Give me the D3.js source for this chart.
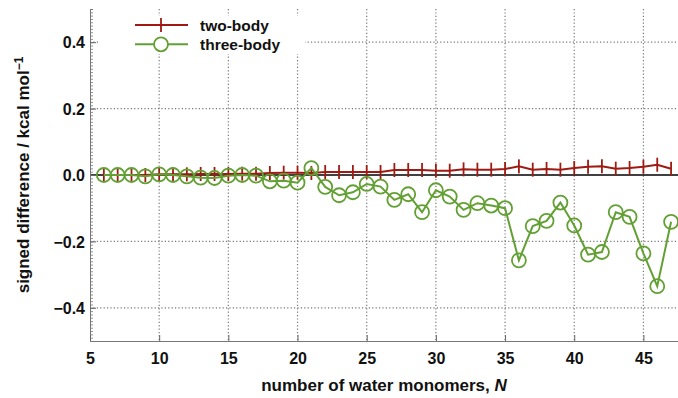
<!DOCTYPE html>
<html lang="en">
<head>
<meta charset="utf-8">
<title>Signed difference vs N</title>
<style>
body {
  margin: 0;
  background: #ffffff;
}
svg text {
  font-family: "Liberation Sans", Arial, sans-serif;
  font-weight: bold;
  fill: #111;
}
.tickText {
  font-size: 16px;
}
.axisTitles {
  font-size: 17px;
  text-anchor: middle;
}
.legendText {
  font-size: 15.5px;
}
</style>
</head>
<body>
<div id="chart"></div>
<script src="https://d3js.org/d3.v7.min.js"></script>
<script>
// number of water monomers
var nValues = [6, 7, 8, 9, 10, 11, 12, 13, 14, 15, 16, 17, 18, 19, 20, 21, 22, 23, 24, 25, 26,
  27, 28, 29, 30, 31, 32, 33, 34, 35, 36, 37, 38, 39, 40, 41, 42, 43, 44, 45, 46, 47];
// signed differences, kcal/mol
var twoBody = [0.000, 0.000, 0.000, 0.000, 0.002, 0.002, 0.002, 0.003, 0.003, 0.003, 0.004, 0.004,
  0.006, 0.007, 0.007, 0.006, 0.009, 0.009, 0.009, 0.009, 0.009, 0.015, 0.015, 0.015, 0.013, 0.013,
  0.017, 0.016, 0.016, 0.018, 0.026, 0.016, 0.018, 0.016, 0.021, 0.025, 0.026, 0.019, 0.021, 0.025,
  0.031, 0.019];
var threeBody = [0.000, 0.000, 0.000, -0.004, 0.002, 0.000, -0.004, -0.008, -0.009, -0.002, 0.000, -0.002,
  -0.019, -0.017, -0.023, 0.021, -0.036, -0.061, -0.052, -0.027, -0.035, -0.075, -0.058, -0.112,
  -0.046, -0.065, -0.105, -0.085, -0.092, -0.100, -0.257, -0.154, -0.138, -0.083, -0.152, -0.240,
  -0.232, -0.112, -0.126, -0.236, -0.335, -0.141];
var xTicks = [5, 10, 15, 20, 25, 30, 35, 40, 45];
var yTicks = [-0.4, -0.2, 0.0, 0.2, 0.4];
var seriesNames = ['two-body', 'three-body'];

var redColor = '#9e1a12';
var greenColor = '#62a033';

var margin = { top: 9, right: 0, bottom: 57, left: 90 };
var width = 678 - margin.left - margin.right;
var height = 398 - margin.top - margin.bottom;

var xS = d3.scaleLinear().domain([5, 47.5]).range([0, width]);
var yS = d3.scaleLinear().domain([-0.5, 0.5]).range([height, 0]);

var svg = d3.select('#chart')
  .append('svg')
  .attr('width', 678)
  .attr('height', 398);
var graph = svg.append('g')
  .attr('transform', 'translate(' + margin.left + ',' + margin.top + ')');

// dotted grid
graph.append('g').selectAll('line')
  .data(xTicks.filter(function(d) { return d > 5; }))
  .enter().append('line')
  .attr('x1', function(d) { return xS(d); })
  .attr('x2', function(d) { return xS(d); })
  .attr('y1', 0).attr('y2', height)
  .attr('stroke', '#777').attr('stroke-width', 1.2)
  .attr('stroke-dasharray', '1.2,2.2');
graph.append('g').selectAll('line')
  .data(yTicks.filter(function(d) { return d !== 0; }))
  .enter().append('line')
  .attr('x1', 0).attr('x2', width)
  .attr('y1', function(d) { return yS(d); })
  .attr('y2', function(d) { return yS(d); })
  .attr('stroke', '#777').attr('stroke-width', 1.2)
  .attr('stroke-dasharray', '1.2,2.2');

// zero line
graph.append('line')
  .attr('x1', 0).attr('x2', width)
  .attr('y1', yS(0)).attr('y2', yS(0))
  .attr('stroke', '#000').attr('stroke-width', 1.6);

// axes (gnuplot style, ticks inward)
var yMinor = d3.range(-50, 51).map(function(i) { return i / 100; });
var leftAxis = graph.append('g')
  .call(d3.axisLeft(yS).tickValues(yMinor).tickSize(-3).tickFormat(''));
leftAxis.selectAll('line').attr('stroke', '#777').attr('stroke-width', 0.8);
leftAxis.select('.domain').attr('stroke', '#777');
var leftMajor = graph.append('g')
  .call(d3.axisLeft(yS).tickValues(yTicks).tickSize(-6).tickPadding(5)
    .tickFormat(function(d) { return d3.format('.1f')(d).replace('-', '\u2212'); }));
leftMajor.select('.domain').remove();
leftMajor.selectAll('line').attr('stroke', '#666');
leftMajor.selectAll('text').attr('class', 'tickText').attr('dy', '0.36em');

var bottomAxis = graph.append('g')
  .attr('transform', 'translate(0,' + height + ')')
  .call(d3.axisBottom(xS).tickValues(xTicks).tickSize(-6).tickPadding(12));
bottomAxis.select('.domain').attr('stroke', '#777');
bottomAxis.selectAll('line').attr('stroke', '#666');
bottomAxis.selectAll('text').attr('class', 'tickText');

// axis titles
graph.append('text')
  .attr('class', 'axisTitles')
  .attr('x', width / 2)
  .attr('y', height + 50)
  .html('number of water monomers, <tspan font-style="italic">N</tspan>');
var yTitle = graph.append('text')
  .attr('class', 'axisTitles')
  .attr('transform', 'rotate(-90)')
  .attr('x', -height / 2)
  .attr('y', -61);
yTitle.append('tspan').text('signed difference / kcal mol');
yTitle.append('tspan').attr('dy', -6).attr('font-size', '12px').text('\u22121');

// series
var twoData = nValues.map(function(n, i) { return { n: n, v: twoBody[i] }; });
var threeData = nValues.map(function(n, i) { return { n: n, v: threeBody[i] }; });
var line = d3.line()
  .x(function(d) { return xS(d.n); })
  .y(function(d) { return yS(d.v); });

graph.append('path')
  .datum(twoData)
  .attr('d', line)
  .attr('fill', 'none')
  .attr('stroke', redColor)
  .attr('stroke-width', 2);
graph.append('g').selectAll('line')
  .data(twoData)
  .enter().append('line')
  .attr('x1', function(d) { return xS(d.n); })
  .attr('x2', function(d) { return xS(d.n); })
  .attr('y1', function(d) { return yS(d.v) - 7; })
  .attr('y2', function(d) { return yS(d.v) + 7; })
  .attr('stroke', redColor)
  .attr('stroke-width', 1.8);

graph.append('path')
  .datum(threeData)
  .attr('d', line)
  .attr('fill', 'none')
  .attr('stroke', greenColor)
  .attr('stroke-width', 2);
graph.append('g').selectAll('circle')
  .data(threeData)
  .enter().append('circle')
  .attr('cx', function(d) { return xS(d.n); })
  .attr('cy', function(d) { return yS(d.v); })
  .attr('r', 7)
  .attr('fill', 'none')
  .attr('stroke', greenColor)
  .attr('stroke-width', 1.8);

// legend
var legend = svg.append('g');
legend.append('rect')
  .attr('x', 100).attr('y', 16).attr('width', 205).attr('height', 38)
  .attr('fill', '#fff');
var legendRows = legend.selectAll('g.row')
  .data(seriesNames)
  .enter().append('g')
  .attr('class', 'row')
  .attr('transform', function(d, i) { return 'translate(0,' + (25 + i * 19.3) + ')'; });
legendRows.append('line')
  .attr('x1', 135).attr('x2', 188).attr('y1', 0).attr('y2', 0)
  .attr('stroke', function(d, i) { return i === 0 ? redColor : greenColor; })
  .attr('stroke-width', 2);
legendRows.filter(function(d, i) { return i === 0; })
  .append('line')
  .attr('x1', 161).attr('x2', 161).attr('y1', -7).attr('y2', 7)
  .attr('stroke', redColor).attr('stroke-width', 1.8);
legendRows.filter(function(d, i) { return i === 1; })
  .append('circle')
  .attr('cx', 161).attr('cy', 0).attr('r', 7)
  .attr('fill', '#fff')
  .attr('stroke', greenColor).attr('stroke-width', 1.8);
legendRows.append('text')
  .attr('class', 'legendText')
  .attr('x', 200)
  .attr('y', 5.5)
  .text(function(d) { return d; });
</script>
</body>
</html>
